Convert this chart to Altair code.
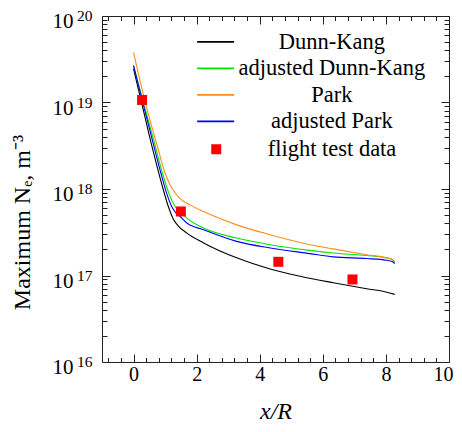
import altair as alt
import pandas as pd

FONT = "Liberation Serif"
W = 347
H = 346

series_names = ["Dunn-Kang", "adjusted Dunn-Kang", "Park", "adjusted Park"]
series_colors = ["#000000", "#00e600", "#ff8c1a", "#0000ff"]

dk_x = [0, 0.3, 0.6, 0.9, 1.1, 1.25, 1.4, 1.69, 2.22, 3.27, 4.33, 5.28, 6.33, 7.39, 8.0, 8.28]
dk_y = [2.45e19, 8.51e18, 2.95e18, 1.12e18, 6.31e17, 4.57e17, 3.80e17, 3.09e17, 2.38e17,
        1.60e17, 1.19e17, 9.8e16, 8.24e16, 7.03e16, 6.46e16, 6.05e16]

adk_x = [0, 0.35, 0.65, 0.92, 1.12, 1.32, 1.48, 1.69, 2.22, 3.27, 4.33, 5.59, 6.33, 7.39, 8.02, 8.2, 8.28]
adk_y = [2.69e19, 8.83e18, 3.55e18, 1.51e18, 8.91e17, 6.27e17, 5.48e17, 4.60e17, 3.53e17,
         2.71e17, 2.27e17, 1.95e17, 1.82e17, 1.70e17, 1.60e17, 1.53e17, 1.41e17]

park_x = [0, 0.41, 0.75, 1.0, 1.16, 1.32, 1.5, 1.79, 2.22, 3.27, 4.33, 5.59, 6.33, 7.39, 8.02, 8.2, 8.28]
park_y = [3.78e19, 8.83e18, 3.16e18, 1.53e18, 1.11e18, 9.0e17, 7.59e17, 6.55e17, 5.48e17,
          3.85e17, 2.96e17, 2.27e17, 2.03e17, 1.74e17, 1.60e17, 1.53e17, 1.45e17]

apark_x = [0, 0.33, 0.6, 0.87, 1.05, 1.21, 1.35, 1.48, 1.69, 2.22, 3.27, 4.33, 5.59, 6.33, 7.39, 8.02, 8.2, 8.28]
apark_y = [2.66e19, 8.83e18, 3.63e18, 1.51e18, 8.91e17, 6.27e17, 5.25e17, 4.81e17, 4.04e17,
           3.38e17, 2.48e17, 2.08e17, 1.79e17, 1.64e17, 1.57e17, 1.50e17, 1.45e17, 1.37e17]

flight_label = "flight test data"
flight_x = [0.27, 1.5, 4.59, 6.94]
flight_y = [1.07e19, 5.5e17, 1.44e17, 9.0e16]

x_major = [0, 2, 4, 6, 8, 10]
x_minor = [-0.8, -0.4, 0.4, 0.8, 1.2, 1.6, 2.4, 2.8, 3.2, 3.6, 4.4, 4.8, 5.2, 5.6,
           6.4, 6.8, 7.2, 7.6, 8.4, 8.8, 9.2, 9.6]
y_major = [1e16, 1e17, 1e18, 1e19, 1e20]
y_minor = [k * 10.0 ** e for e in range(16, 20) for k in range(2, 10)]
y_tick_base = "10"
y_tick_exponents = ["16", "17", "18", "19", "20"]

frames = []
for name, xs, ys in zip(series_names, [dk_x, adk_x, park_x, apark_x],
                        [dk_y, adk_y, park_y, apark_y]):
    frames.append(pd.DataFrame({"x": xs, "y": ys, "series": name}))
lines_df = pd.concat(frames, ignore_index=True)
flight_df = pd.DataFrame({"x": flight_x, "y": flight_y, "src": flight_label})

xscale = alt.Scale(domain=[-1, 10], nice=False, zero=False)
yscale = alt.Scale(type="log", domain=[1e16, 1e20], nice=False)


def tick_axis(orient, values, size, off):
    return alt.Axis(orient=orient, offset=off, values=values, labels=False, domain=False,
                    grid=False, ticks=True, tickSize=size, tickColor="#222",
                    tickWidth=1, title=None)


def axis_layer(xaxis, yaxis):
    return alt.Chart(flight_df).mark_point(opacity=0).encode(
        x=alt.X("x:Q", scale=xscale, axis=xaxis),
        y=alt.Y("y:Q", scale=yscale, axis=yaxis),
    )


exp_expr = "[" + ",".join("'%s'" % s for s in y_tick_exponents) + "][round(log(datum.value)/LN10) - 16]"

x_lab = alt.Axis(orient="bottom", values=x_major, format="d", ticks=False, domain=False,
                 grid=False, labelFont=FONT, labelFontSize=20, labelColor="black",
                 labelPadding=2, labelFlush=True, labelFlushOffset=4, labelOverlap=False,
                 title="x/R", titleFont=FONT, titleFontSize=24, titleFontStyle="italic",
                 titleFontWeight="normal", titleColor="black",
                 titleBaseline="bottom", titleY=61)
y_base = alt.Axis(orient="left", values=y_major, labelExpr="'%s'" % y_tick_base, ticks=False,
                  domain=False, grid=False, labelFont=FONT, labelFontSize=21,
                  labelColor="black", labelPadding=29, labelOffset=5.5, labelFlush=False,
                  labelOverlap=False,
                  title="Maximum Nₑ, m⁻³", titleFont=FONT, titleFontSize=24,
                  titleFontWeight="normal", titleColor="black",
                  titleBaseline="alphabetic", titleX=-73, titleY=206)
y_sup = alt.Axis(orient="left", values=y_major, labelExpr=exp_expr, ticks=False,
                 domain=False, grid=False, labelFont=FONT, labelFontSize=15.5,
                 labelColor="black", labelPadding=10, labelOffset=-0.5, labelFlush=False,
                 labelOverlap=False, title=None)

layers = [
    axis_layer(x_lab, y_base),
    axis_layer(tick_axis("top", x_major, 8, -H), y_sup),
    axis_layer(tick_axis("top", x_minor, 4.5, -H), tick_axis("right", y_major, 8, -W)),
    axis_layer(tick_axis("bottom", x_major, 8, -H), tick_axis("right", y_minor, 5, -W)),
    axis_layer(tick_axis("bottom", x_minor, 4.5, -H), tick_axis("left", y_major, 8, -W)),
    axis_layer(tick_axis("bottom", x_minor, 4.5, -H), tick_axis("left", y_minor, 5, -W)),
]

lines = alt.Chart(lines_df).mark_line(strokeWidth=1.1, interpolate="monotone").encode(
    x=alt.X("x:Q", scale=xscale, axis=None),
    y=alt.Y("y:Q", scale=yscale, axis=None),
    color=alt.Color(
        "series:N",
        scale=alt.Scale(domain=series_names, range=series_colors),
        legend=alt.Legend(orient="none", legendX=102.4, legendY=14.6, title=None,
                          symbolType="M-2,0H2", symbolSize=342, symbolStrokeWidth=1.6,
                          labelFont=FONT, labelFontSize=22.5, labelColor="black",
                          labelAlign="center", labelOffset=105, labelLimit=0,
                          rowPadding=3.5, padding=0),
    ),
)

points = alt.Chart(flight_df).mark_point(filled=True, size=100, color="#ff0000", opacity=1).encode(
    x=alt.X("x:Q", scale=xscale, axis=None),
    y=alt.Y("y:Q", scale=yscale, axis=None),
    shape=alt.Shape(
        "src:N",
        scale=alt.Scale(domain=[flight_label], range=["square"]),
        legend=alt.Legend(orient="none", legendX=103, legendY=122, title=None,
                          symbolSize=100, symbolFillColor="#ff0000", symbolStrokeWidth=0,
                          labelFont=FONT, labelFontSize=22.5, labelColor="black",
                          labelAlign="center", labelOffset=104.5, labelLimit=0, padding=0),
    ),
)

chart = alt.layer(*layers, lines, points).resolve_axis(
    x="independent", y="independent"
).properties(
    width=W, height=H,
    autosize=alt.AutoSizeParams(type="none"),
    padding={"left": 94, "top": 8, "right": 5, "bottom": 62},
).configure_view(stroke="#222", strokeWidth=1)

chart.save("out.html", embed_options={"renderer": "svg", "actions": False})
